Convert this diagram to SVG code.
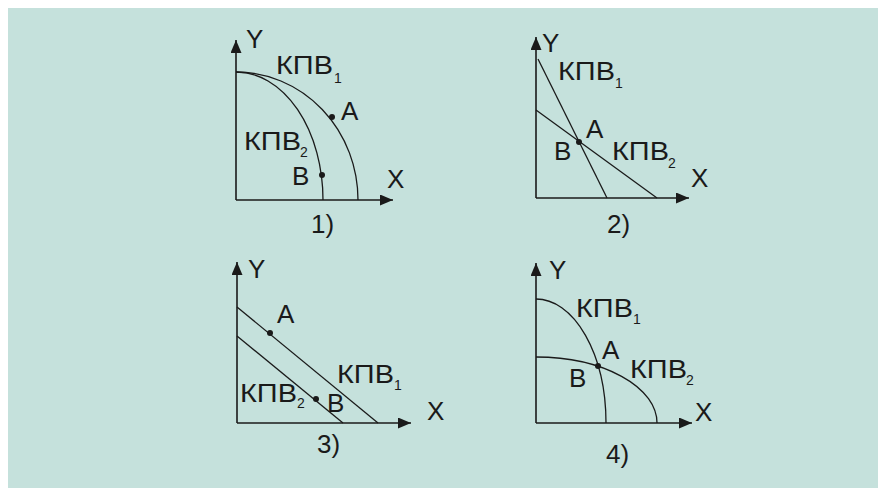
<svg xmlns="http://www.w3.org/2000/svg" width="878" height="488" viewBox="0 0 878 488">
<defs>
<marker id="ah" markerUnits="userSpaceOnUse" markerWidth="14" markerHeight="12" refX="13" refY="5.5" orient="auto">
<path d="M0,0 L13,5.5 L0,11 z" fill="#1a1a1a"/>
</marker>
<style>
.ax{stroke:#1a1a1a;stroke-width:1.6;fill:none;marker-end:url(#ah)}
.cv{stroke:#1a1a1a;stroke-width:1.3;fill:none}
.dot{fill:#1a1a1a}
text{font-family:"Liberation Sans",Arial,sans-serif;fill:#1a1a1a;font-size:26px}
.sub{font-size:14px}
</style>
</defs>
<rect x="0" y="0" width="878" height="488" fill="#ffffff"/>
<rect x="8" y="8" width="870" height="480" fill="#c5e1dc"/>

<g id="connectors">
<path class="ax" d="M236,200 V40"/>
<path class="ax" d="M236,200 H393"/>
<path class="cv" d="M236,72 A122,128 0 0 1 358,200"/>
<path class="cv" d="M236,72 A87,128 0 0 1 323,200"/>
<path class="ax" d="M536,198 V37"/>
<path class="ax" d="M536,198 H689"/>
<path class="cv" d="M538,59 L607,198"/>
<path class="cv" d="M536,110 L657,198"/>
<path class="ax" d="M237,423 V262"/>
<path class="ax" d="M237,423 H411"/>
<path class="cv" d="M237,307 L378,423"/>
<path class="cv" d="M237,336 L343,423"/>
<path class="ax" d="M536,423 V263"/>
<path class="ax" d="M536,423 H692"/>
<path class="cv" d="M536,299 A70,124 0 0 1 606,423"/>
<path class="cv" d="M536,357 A121,66 0 0 1 657,423"/>
</g>

<g id="panel1">
<circle class="dot" cx="332" cy="117" r="3"/>
<circle class="dot" cx="322" cy="175" r="3"/>
<text x="246" y="48">Y</text>
<text x="276" y="74" textLength="57" lengthAdjust="spacingAndGlyphs">КПВ</text><text class="sub" x="334" y="83">1</text>
<text x="341" y="120">A</text>
<text x="244" y="150" textLength="57" lengthAdjust="spacingAndGlyphs">КПВ</text><text class="sub" x="300" y="157">2</text>
<text x="292" y="185">B</text>
<text x="387" y="188">X</text>
<text x="311" y="233">1)</text>
</g>

<g id="panel2">
<circle class="dot" cx="579" cy="142" r="3"/>
<text x="542" y="52">Y</text>
<text x="558" y="80" textLength="57" lengthAdjust="spacingAndGlyphs">КПВ</text><text class="sub" x="615" y="88">1</text>
<text x="586" y="138">A</text>
<text x="554" y="160">B</text>
<text x="612" y="160" textLength="57" lengthAdjust="spacingAndGlyphs">КПВ</text><text class="sub" x="668" y="168">2</text>
<text x="691" y="187">X</text>
<text x="607" y="233">2)</text>
</g>

<g id="panel3">
<circle class="dot" cx="270" cy="333" r="3"/>
<circle class="dot" cx="316" cy="399" r="3"/>
<text x="248" y="278">Y</text>
<text x="277" y="323">A</text>
<text x="337" y="383" textLength="57" lengthAdjust="spacingAndGlyphs">КПВ</text><text class="sub" x="394" y="390">1</text>
<text x="240" y="402" textLength="57" lengthAdjust="spacingAndGlyphs">КПВ</text><text class="sub" x="297" y="408">2</text>
<text x="327" y="412">B</text>
<text x="427" y="420">X</text>
<text x="317" y="453">3)</text>
</g>

<g id="panel4">
<circle class="dot" cx="598" cy="366" r="3"/>
<text x="549" y="279">Y</text>
<text x="576" y="317" textLength="57" lengthAdjust="spacingAndGlyphs">КПВ</text><text class="sub" x="633" y="324">1</text>
<text x="602" y="359">A</text>
<text x="569" y="387">B</text>
<text x="630" y="378" textLength="57" lengthAdjust="spacingAndGlyphs">КПВ</text><text class="sub" x="686" y="385">2</text>
<text x="695" y="421">X</text>
<text x="606" y="463">4)</text>
</g>
</svg>
